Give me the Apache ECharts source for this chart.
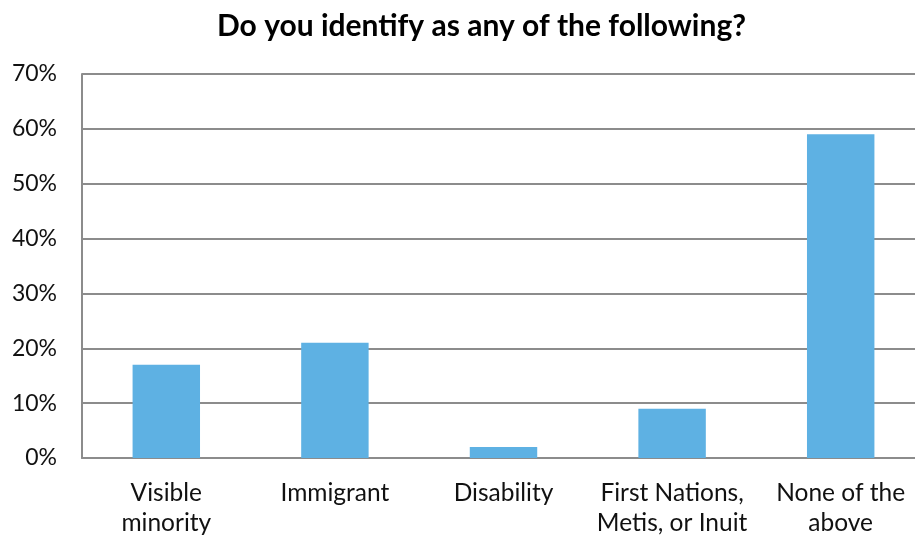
<!DOCTYPE html>
<html>
<head>
<meta charset="utf-8">
<script src="https://cdn.jsdelivr.net/npm/echarts@6/dist/echarts.min.js"></script>
<style>
  html, body { margin: 0; padding: 0; background: #fff; }
  #chart { width: 915px; height: 539px; }
</style>
</head>
<body>
<div id="chart"></div>
<script>
// Survey responses: share of respondents identifying with each group
const categories = ['Visible\nminority', 'Immigrant', 'Disability', 'First Nations,\nMetis, or Inuit', 'None of the\nabove'];
const shares = [17, 21, 2, 9, 59];
const yTicks = { min: 0, max: 70, step: 10 };

const font = 'Lato, "Open Sans", sans-serif';

const chart = echarts.init(document.getElementById('chart'), null, { renderer: 'canvas' });
chart.setOption({
  animation: false,
  title: {
    text: 'Do you identify as any of the following?',
    left: 212,
    top: 6,
    textStyle: { fontFamily: font, fontWeight: 'bold', fontSize: 30, color: '#000' }
  },
  // plot area runs slightly past the right edge of the canvas
  grid: { left: 82, top: 74, width: 843, height: 384, containLabel: false, outerBoundsMode: 'none' },
  xAxis: {
    type: 'category',
    data: categories,
    axisLine: { show: true, lineStyle: { color: '#8c8c8c', width: 2 } },
    axisTick: { show: false },
    axisLabel: {
      fontFamily: font, fontSize: 24.5, color: '#111', lineHeight: 30, margin: 20, interval: 0
    }
  },
  yAxis: {
    type: 'value',
    min: yTicks.min,
    max: yTicks.max,
    interval: yTicks.step,
    axisLine: { show: true, lineStyle: { color: '#8c8c8c', width: 2 } },
    axisTick: { show: false },
    splitLine: { lineStyle: { color: '#8c8c8c', width: 2 } },
    axisLabel: {
      formatter: '{value}%', fontFamily: font, fontSize: 23, color: '#111', margin: 25
    }
  },
  series: [{
    type: 'bar',
    data: shares,
    barWidth: '40%',
    itemStyle: { color: '#5eb1e3' }
  }]
});
</script>
</body>
</html>
